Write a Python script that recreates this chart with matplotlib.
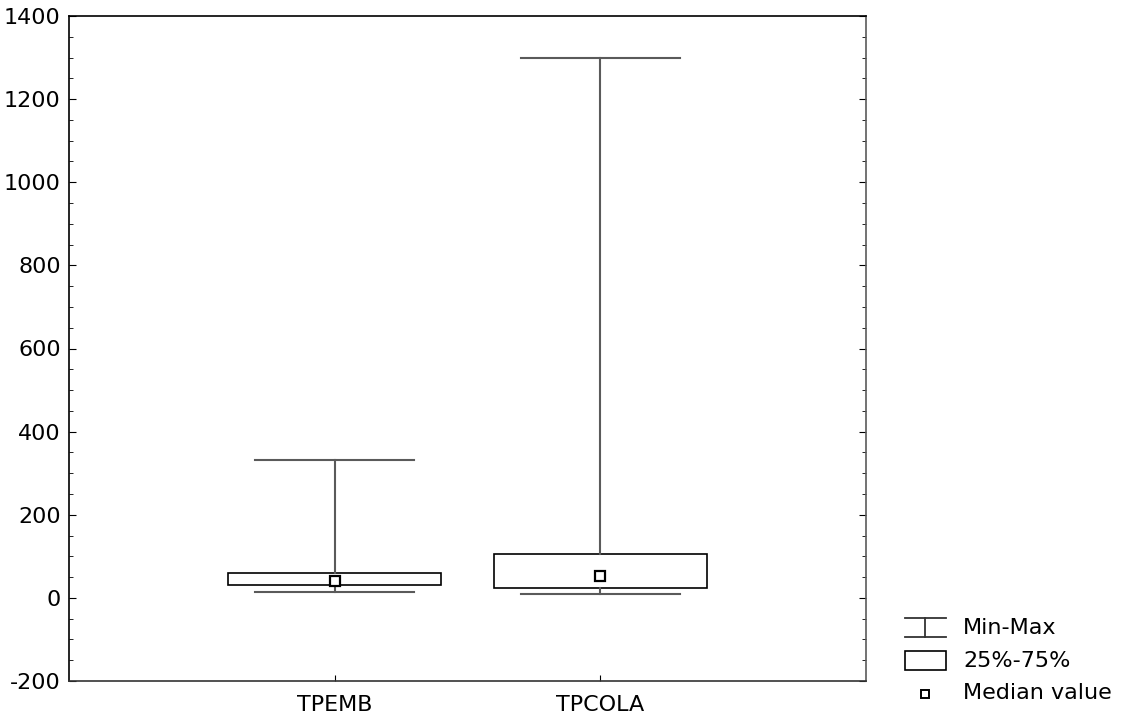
import matplotlib
matplotlib.use("Agg")
import matplotlib.pyplot as plt
from matplotlib.patches import Rectangle
from matplotlib.ticker import MultipleLocator

categories = ["TPEMB", "TPCOLA"]
mins = [15, 10]
q1s = [30.5, 23]
medians = [40, 53.5]
q3s = [60.5, 106.5]
maxs = [332, 1300]

plt.rcParams['font.family'] = ['DejaVu Sans']
plt.rcParams['axes.unicode_minus'] = False
FS = 16

W, H = 1123, 722
fig = plt.figure(figsize=(W / 100, H / 100), dpi=100)
ax = fig.add_axes([69 / W, (H - 681) / H, 797 / W, 665 / H])

positions = list(range(1, len(categories) + 1))
stats = []
for c, lo, a, m, b, hi in zip(categories, mins, q1s, medians, q3s, maxs):
    stats.append(dict(label=c, whislo=lo, q1=a, med=m, q3=b, whishi=hi, fliers=[]))

gray = "#5a5a5a"
ax.bxp(stats, positions=positions, widths=0.8, capwidths=0.6, patch_artist=True,
       showfliers=False,
       boxprops=dict(facecolor="white", edgecolor="black", linewidth=1.2),
       whiskerprops=dict(color=gray, linewidth=1.5),
       capprops=dict(color=gray, linewidth=1.5),
       medianprops=dict(linewidth=0))
ax.plot(positions, medians, linestyle="none", marker="s", markersize=7,
        markerfacecolor="white", markeredgecolor="black", markeredgewidth=1.6, zorder=5)

ax.set_xlim(0, len(categories) + 1)
ax.set_ylim(-200, 1400)
ax.yaxis.set_major_locator(MultipleLocator(200))
ax.yaxis.set_minor_locator(MultipleLocator(50))
ax.set_xticks(positions)
ax.set_xticklabels(categories)
ax.tick_params(axis="y", which="both", direction="in", right=True, labelsize=FS, pad=6)
ax.tick_params(axis="y", which="major", length=5)
ax.tick_params(axis="y", which="minor", length=3)
ax.tick_params(axis="x", direction="in", length=4, labelsize=FS, pad=10)
for s in ax.spines.values():
    s.set_linewidth(1.2)
ax.spines["right"].set_color(gray)
ax.spines["bottom"].set_color("#333333")

# legend (figure pixel coordinates)
lg = fig.add_axes([0, 0, 1, 1], facecolor="none")
lg.set_xlim(0, W)
lg.set_ylim(H, 0)
lg.axis("off")
lc = "#333333"
lg.plot([905, 946], [618, 618], color=lc, lw=1.3)
lg.plot([905, 946], [637, 637], color=lc, lw=1.3)
lg.plot([925, 925], [618, 637], color=lc, lw=1.3)
lg.text(963, 628, "Min-Max", fontsize=FS, va="center", ha="left")
lg.add_patch(Rectangle((905, 651), 41, 19, facecolor="white", edgecolor="black", lw=1.2))
lg.text(963, 661, "25%-75%", fontsize=FS, va="center", ha="left")
lg.plot([924.5], [693.5], marker="s", markersize=5.5, markerfacecolor="white",
        markeredgecolor="black", markeredgewidth=1.4, linestyle="none")
lg.text(963, 693, "Median value", fontsize=FS, va="center", ha="left")

fig.savefig("out.png", dpi=100)
